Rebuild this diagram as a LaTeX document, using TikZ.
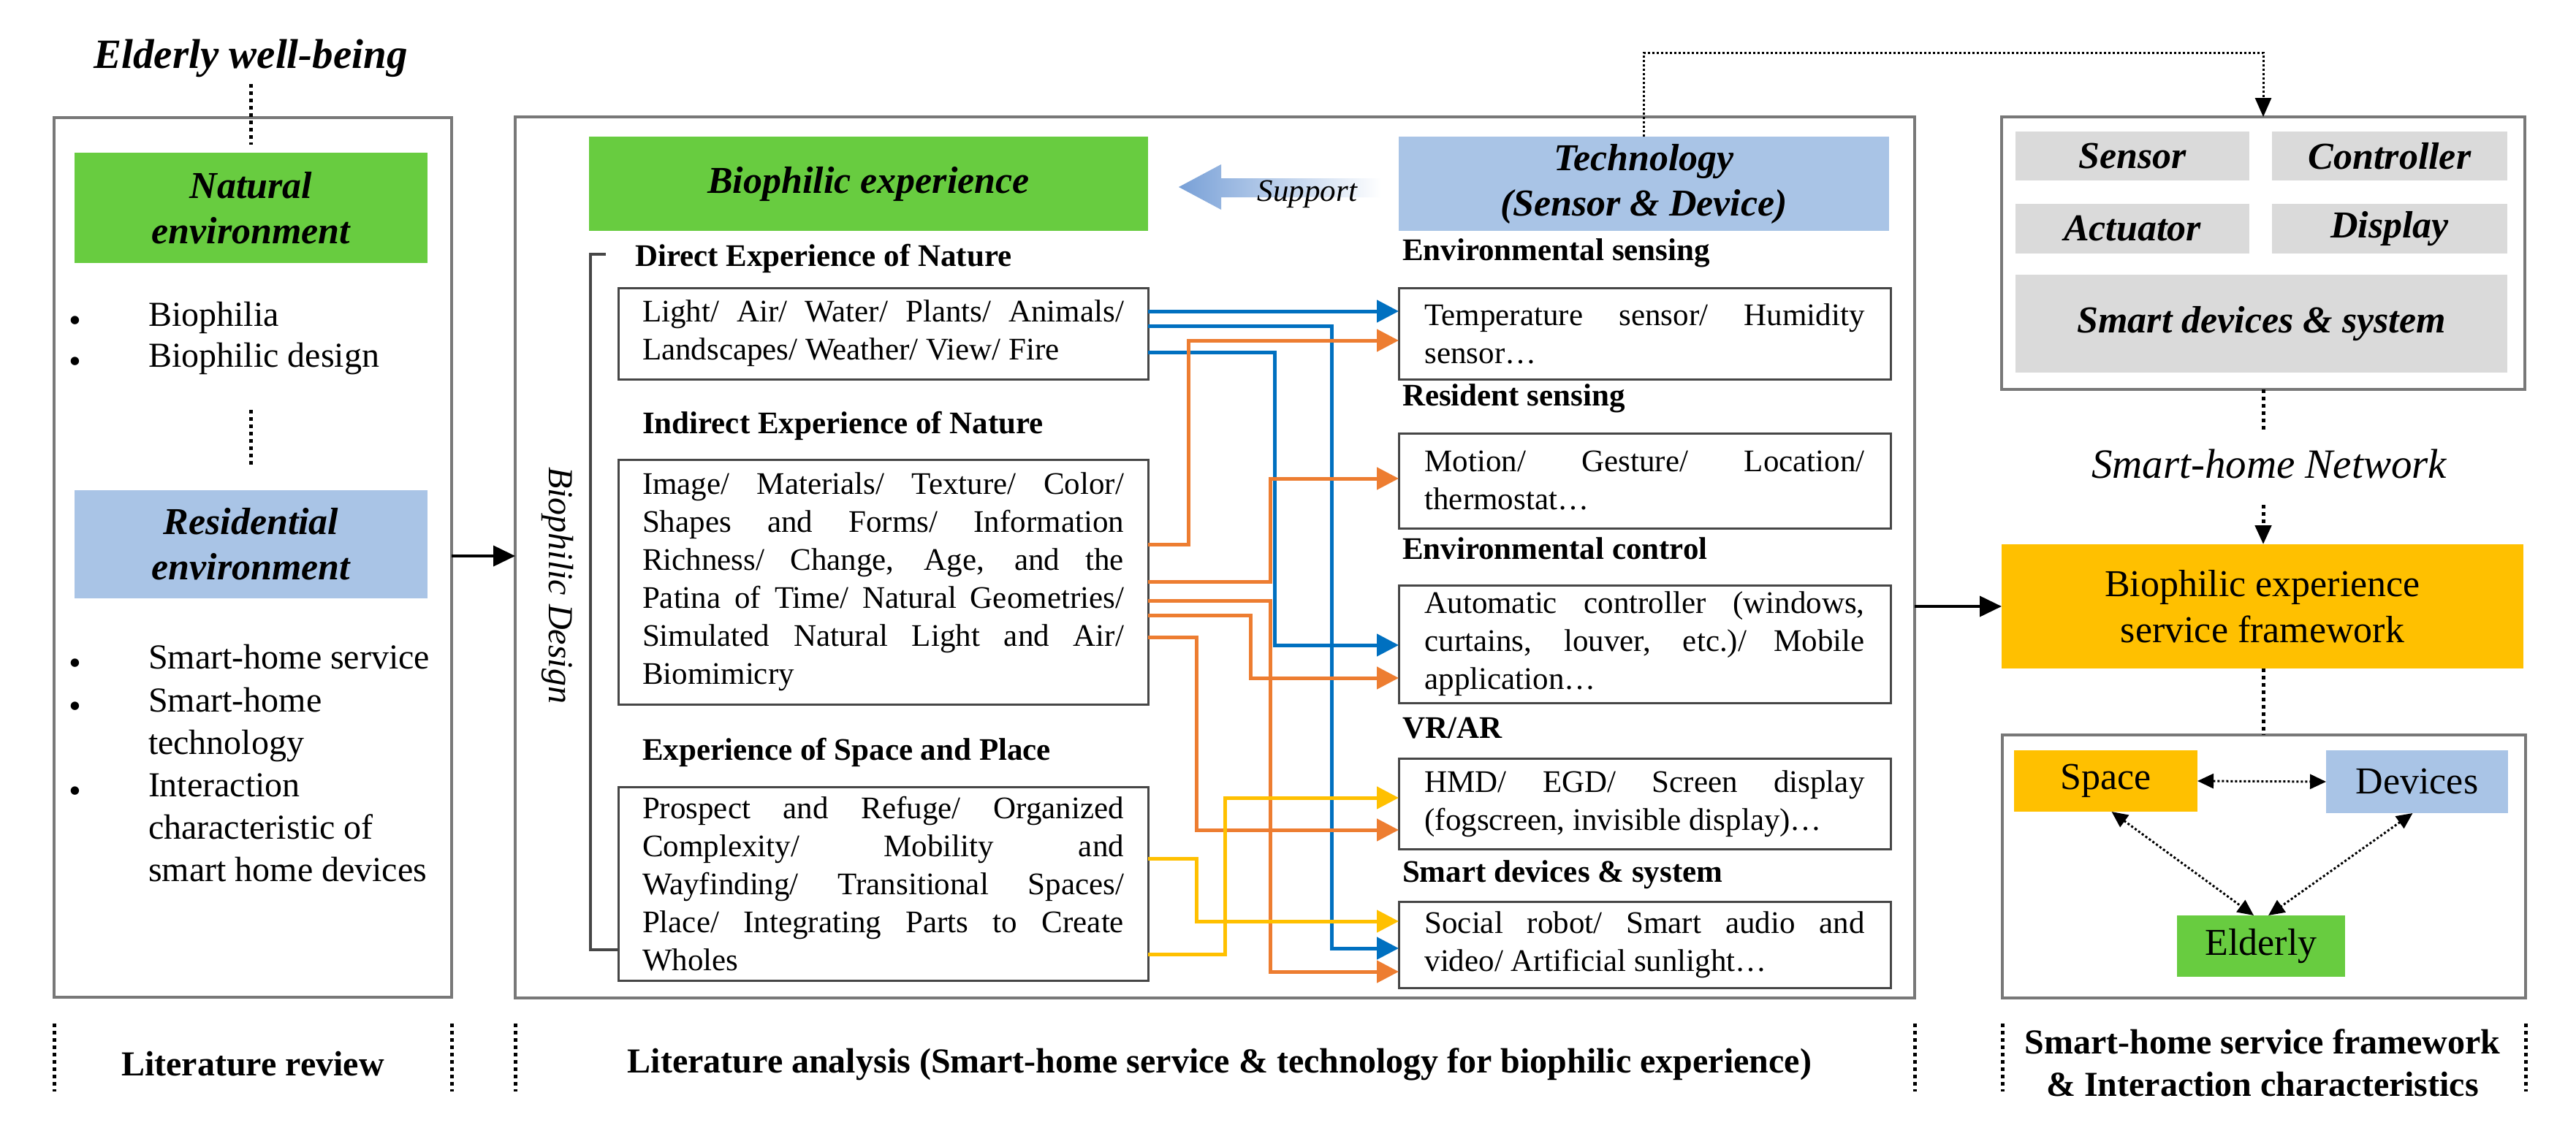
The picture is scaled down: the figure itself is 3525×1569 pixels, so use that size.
\documentclass[tikz,border=0pt]{standalone}
\usepackage{fontspec}
\setmainfont{Liberation Serif}[ItalicFont={Liberation Serif Italic},BoldFont={Liberation Serif Bold},BoldItalicFont={Liberation Serif Bold Italic}]
\usetikzlibrary{arrows.meta}
\definecolor{cblue}{RGB}{0,112,192}
\definecolor{corange}{RGB}{237,125,49}
\definecolor{cyellow}{RGB}{255,192,0}
\definecolor{cgreen}{RGB}{104,204,64}
\definecolor{clblue}{RGB}{169,196,230}
\definecolor{cgray}{RGB}{218,218,218}
\definecolor{cframe}{RGB}{120,120,120}
\definecolor{cbox}{RGB}{70,70,70}
\definecolor{supblue}{RGB}{120,160,215}
\begin{document}
\begin{tikzpicture}[x=1pt,y=-1pt,
  every node/.style={inner sep=0pt,outer sep=0pt},
  frame/.style={draw=cframe,line width=4pt},
  tbox/.style={draw=cbox,line width=3pt,align=justify,font=\fontsize{43}{52}\selectfont},
  fbigbi/.style={font=\fontsize{57}{64}\selectfont\bfseries\itshape},
  fbi/.style={font=\fontsize{52}{62}\selectfont\bfseries\itshape},
  freg/.style={font=\fontsize{52}{63}\selectfont},
  fbul/.style={font=\fontsize{48}{58}\selectfont},
  fhead/.style={font=\fontsize{43}{52}\selectfont\bfseries},
  flab/.style={font=\fontsize{48}{58}\selectfont\bfseries},
  dotline/.style={line width=5pt,dash pattern=on 5pt off 5pt},
  dotthin/.style={line width=3pt,dash pattern=on 3pt off 3pt},
  conn/.style={line width=5pt,-{Triangle[length=30pt,width=30pt]}},
  bline/.style={conn,draw=cblue,color=cblue},
  oline/.style={conn,draw=corange,color=corange},
  yline/.style={conn,draw=cyellow,color=cyellow},
  blackarrow/.style={line width=4pt,-{Triangle[length=30pt,width=28pt]}},
  dtip/.style={-{Triangle[length=26pt,width=22pt]}},
]
\fill[white] (0,0) rectangle (3525,1569);
\useasboundingbox (0,0) rectangle (3525,1569);

% ---------------- left section ----------------
\node[fbigbi] (ewb) at (343,80) {Elderly well-being};
\node[frame,minimum width=544pt,minimum height=1204pt] (leftframe) at (346,763) {};
\node[fill=cgreen,minimum width=483pt,minimum height=151pt,align=center,fbi] (natural) at (343.5,284.5) {Natural\\environment};
\node[fill=clblue,minimum width=483pt,minimum height=148pt,align=center,fbi] (resid) at (343.5,745) {Residential\\environment};
\draw[dotline] (ewb.south |- 0,115) -- (ewb.south |- 0,198);
\draw[dotline] (natural.south |- 0,561) -- (natural.south |- 0,640);

\node[fbul] (bu1) at (103,444) {•};
\node[fbul,anchor=mid west] (it1) at (203,444) {Biophilia};
\node[fbul] (bu2) at (103,500) {•};
\node[fbul,anchor=mid west] (it2) at (203,500) {Biophilic design};
\node[fbul] (bu3) at (103,913) {•};
\node[fbul,anchor=mid west] (it3) at (203,913) {Smart-home service};
\node[fbul] (bu4) at (103,972) {•};
\node[fbul,anchor=mid west] (it4a) at (203,972) {Smart-home};
\node[fbul,anchor=mid west] (it4b) at (203,1030) {technology};
\node[fbul] (bu5) at (103,1088) {•};
\node[fbul,anchor=mid west] (it5a) at (203,1088) {Interaction};
\node[fbul,anchor=mid west] (it5b) at (203,1146) {characteristic of};
\node[fbul,anchor=mid west] (it5c) at (203,1204) {smart home devices};

\node[flab] (litrev) at (346,1456) {Literature review};

% ---------------- middle section ----------------
\node[frame,minimum width=1915pt,minimum height=1206pt] (midframe) at (1662.5,763) {};
\draw[blackarrow] (leftframe.east |- 0,761) -- (midframe.west |- 0,761);

\node[fill=cgreen,minimum width=765pt,minimum height=129pt,fbi] (bioexp) at (1188.5,251.5) {Biophilic experience};
\node[fill=clblue,minimum width=671pt,minimum height=129pt,align=center,fbi] (tech) at (2249.5,251.5) {Technology\\(Sensor \& Device)};
\shade[left color=supblue,right color=white] (1613,256) -- (1671,225) -- (1671,244) -- (1890,244) -- (1890,270) -- (1671,270) -- (1671,287) -- cycle;
\node[font=\fontsize{43}{52}\selectfont\itshape] (support) at (1789,266) {Support};

\node[font=\fontsize{48}{58}\selectfont\itshape,rotate=-90] (bdesign) at (763,801) {Biophilic Design};

\node[fhead,anchor=mid west] (hdirect) at (869,362) {Direct Experience of Nature};
\node[tbox,minimum width=725pt,minimum height=125pt,text width=659pt,inner xsep=33pt] (direct) at (1208.5,456.5)
 {Light/ Air/ Water/ Plants/ Animals/\linebreak Landscapes/ Weather/ View/ Fire};
\node[fhead,anchor=mid west] (hindirect) at (879,591) {Indirect Experience of Nature};
\node[tbox,minimum width=725pt,minimum height=335pt,text width=659pt,inner xsep=33pt] (indirect) at (1208.5,796.5)
 {Image/ Materials/ Texture/ Color/\linebreak Shapes and Forms/ Information\linebreak Richness/ Change, Age, and the\linebreak Patina of Time/ Natural Geometries/\linebreak Simulated Natural Light and Air/\linebreak Biomimicry};
\node[fhead,anchor=mid west] (hspace) at (879,1038) {Experience of Space and Place};
\node[tbox,minimum width=725pt,minimum height=265pt,text width=659pt,inner xsep=33pt] (spacebx) at (1208.5,1209.5)
 {Prospect and Refuge/ Organized\linebreak Complexity/ Mobility and\linebreak Wayfinding/ Transitional Spaces/\linebreak Place/ Integrating Parts to Create\linebreak Wholes};

\draw[cbox,line width=4pt] (829,348) -- (808,348) -- (808,1300) -- (spacebx.west |- 0,1300);

\node[fhead,anchor=mid west] (hsense) at (1919,354) {Environmental sensing};
\node[tbox,minimum width=673pt,minimum height=125pt,text width=602pt,inner xsep=35.5pt] (envsense) at (2250.5,456.5)
 {Temperature sensor/ Humidity\linebreak sensor…};
\node[fhead,anchor=mid west] (hres) at (1919,553) {Resident sensing};
\node[tbox,minimum width=673pt,minimum height=130pt,text width=602pt,inner xsep=35.5pt] (resident) at (2250.5,658)
 {Motion/ Gesture/ Location/\linebreak thermostat…};
\node[fhead,anchor=mid west] (hctrl) at (1919,763) {Environmental control};
\node[tbox,minimum width=673pt,minimum height=161pt,text width=602pt,inner xsep=35.5pt] (envctrl) at (2250.5,881.5)
 {Automatic controller (windows,\linebreak curtains, louver, etc.)/ Mobile\linebreak application…};
\node[fhead,anchor=mid west] (hvr) at (1919,1008) {VR/AR};
\node[tbox,minimum width=673pt,minimum height=124pt,text width=602pt,inner xsep=35.5pt] (vrar) at (2250.5,1100)
 {HMD/ EGD/ Screen display\linebreak (fogscreen, invisible display)…};
\node[fhead,anchor=mid west] (hsmart) at (1919,1205) {Smart devices \& system};
\node[tbox,minimum width=673pt,minimum height=118pt,text width=602pt,inner xsep=35.5pt] (smartdev) at (2250.5,1293)
 {Social robot/ Smart audio and\linebreak video/ Artificial sunlight…};

% connectors
\draw[bline] (direct.east |- 0,426) -- (envsense.west |- 0,426);
\draw[bline] (direct.east |- 0,446) -| (1822,1298) -- (smartdev.west |- 0,1298);
\draw[bline] (direct.east |- 0,482) -| (1744,883) -- (envctrl.west |- 0,883);
\draw[oline] (indirect.east |- 0,745) -| (1626,466) -- (envsense.west |- 0,466);
\draw[oline] (indirect.east |- 0,796) -| (1738,655) -- (resident.west |- 0,655);
\draw[oline] (indirect.east |- 0,822) -| (1738,1330) -- (smartdev.west |- 0,1330);
\draw[oline] (indirect.east |- 0,842) -| (1711,928) -- (envctrl.west |- 0,928);
\draw[oline] (indirect.east |- 0,872) -| (1637,1136) -- (vrar.west |- 0,1136);
\draw[yline] (spacebx.east |- 0,1175) -| (1637,1261) -- (smartdev.west |- 0,1261);
\draw[yline] (spacebx.east |- 0,1306) -| (1676,1092) -- (vrar.west |- 0,1092);

\node[flab] (litana) at (1669,1457) {Literature analysis (Smart-home service \& technology for biophilic experience)};

% ---------------- right section ----------------
\node[frame,minimum width=716pt,minimum height=373pt] (rightbox) at (3097,346.5) {};
\node[fill=cgray,minimum width=320pt,minimum height=67pt,fbi] (sensor) at (2918,213.5) {Sensor};
\node[fill=cgray,minimum width=322pt,minimum height=67pt,fbi] (controller) at (3270,213.5) {Controller};
\node[fill=cgray,minimum width=320pt,minimum height=68pt,fbi] (actuator) at (2918,313) {Actuator};
\node[fill=cgray,minimum width=322pt,minimum height=68pt,fbi] (display) at (3270,313) {Display};
\node[fill=cgray,minimum width=673pt,minimum height=134pt,fbi] (sds) at (3094.5,443) {Smart devices \& system};

\draw[dotthin,dtip] (tech.north) |- (rightbox.north |- 0,72) -- (rightbox.north);

\node[font=\fontsize{57}{64}\selectfont\itshape] (shnet) at (3105,635) {Smart-home Network};
\node[fill=cyellow,minimum width=714pt,minimum height=170pt,align=center,freg] (bef) at (3096,830) {Biophilic experience\\service framework};
\draw[dotline] (rightbox.south) -- (rightbox.south |- 0,592);
\draw[dotline,dtip] (rightbox.south |- 0,691) -- (rightbox.south |- bef.north);
\draw[blackarrow] (midframe.east |- bef.west) -- (bef.west);

\node[frame,minimum width=716pt,minimum height=360pt] (inter) at (3098,1186) {};
\draw[dotline] (bef.south -| rightbox.south) -- (rightbox.south |- inter.north);
\node[fill=cyellow,minimum width=251pt,minimum height=84pt,freg] (spacen) at (2881.5,1069) {Space};
\node[fill=clblue,minimum width=249pt,minimum height=86pt,freg] (devices) at (3307.5,1070) {Devices};
\node[fill=cgreen,minimum width=230pt,minimum height=84pt,freg] (elderly) at (3094,1295) {Elderly};
\draw[dotthin,{Triangle[length=22pt,width=20pt]}-{Triangle[length=22pt,width=20pt]}] (spacen.east) -- (devices.west);
\draw[dotthin,{Triangle[length=22pt,width=20pt]}-{Triangle[length=22pt,width=20pt]}] ([xshift=8pt]spacen.south) -- ([xshift=-10pt]elderly.north);
\draw[dotthin,{Triangle[length=22pt,width=20pt]}-{Triangle[length=22pt,width=20pt]}] ([xshift=-6pt]devices.south) -- ([xshift=10pt]elderly.north);

\node[flab,align=center] (shsf) at (3096,1455) {Smart-home service framework\\\& Interaction characteristics};

% bottom dotted separators
\draw[dotline] (leftframe.west |- 0,1401) -- (leftframe.west |- 0,1494);
\draw[dotline] (leftframe.east |- 0,1401) -- (leftframe.east |- 0,1494);
\draw[dotline] (midframe.west |- 0,1401) -- (midframe.west |- 0,1494);
\draw[dotline] (midframe.east |- 0,1401) -- (midframe.east |- 0,1494);
\draw[dotline] (inter.west |- 0,1401) -- (inter.west |- 0,1494);
\draw[dotline] (inter.east |- 0,1401) -- (inter.east |- 0,1494);
\end{tikzpicture}
\end{document}
